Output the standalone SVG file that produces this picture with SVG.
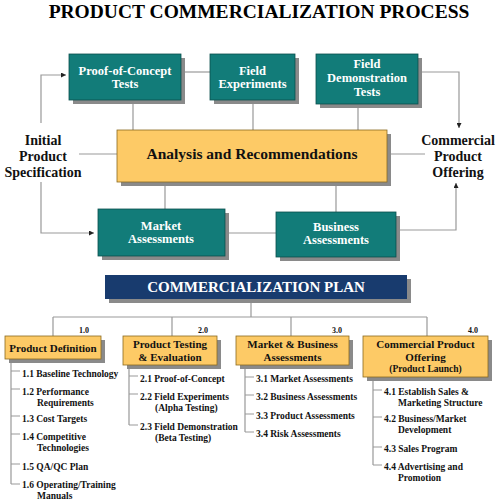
<svg xmlns="http://www.w3.org/2000/svg" width="500" height="500" viewBox="0 0 500 500">
<defs>
<marker id="ah" viewBox="0 0 10 10" refX="10" refY="5" markerWidth="5" markerHeight="5" orient="auto" markerUnits="userSpaceOnUse"><path d="M0,0 L10,5 L0,10 z" fill="#222"/></marker>
</defs>
<style>
text{font-family:"Liberation Serif","Times New Roman",serif;font-weight:bold;text-anchor:middle}
.title{font-size:19.5px;fill:#000}
.teal{fill:#127C79;stroke:#0b4f4d;stroke-width:0.8}
.yel{fill:#FDCA66;stroke:#8a6a20;stroke-width:0.8}
.navy{fill:#183B6E}
.sh{fill:#8a8a8a}
.wt{fill:#fff;font-size:12.5px}
.side{fill:#111;font-size:14px}
.bt{fill:#111;font-size:11px}
.num{fill:#111;font-size:8px}
.it{fill:#111;font-size:9.5px;text-anchor:start}
.ln{fill:none;stroke:#999;stroke-width:1.2}
.arr{fill:none;stroke:#999;stroke-width:1.2;marker-end:url(#ah)}
</style>
<rect width="500" height="500" fill="#fff"/>
<text class="title" x="259" y="18">PRODUCT COMMERCIALIZATION PROCESS</text>

<g id="connectors">
<path class="ln" d="M181,72 H210"/>
<path class="ln" d="M133,100 V130 M253,100 V130 M358,104 V130"/>
<path class="arr" d="M41,123 V75 H66"/>
<path class="arr" d="M422,72 H459 V128"/>
<path class="ln" d="M79,154 H117 M388,154 H425"/>
<path class="arr" d="M41,182 V233 H94"/>
<path class="arr" d="M396,230 H456 V183"/>
<path class="ln" d="M165,182 V209 M336,182 V212"/>
<path class="ln" d="M225,233 H276"/>
<path class="ln" d="M251,303 V317 M53,317 H427 M53,317 V336 M172,317 V336 M291,317 V336 M427,317 V336"/>
<path class="ln" d="M11,359 V484 M11,371 H20 M11,389 H20 M11,416 H20 M11,434 H20 M11,464 H20 M11,484 H20"/>
<path class="ln" d="M129,365 V425 M129,376 H138 M129,394 H138 M129,425 H138"/>
<path class="ln" d="M245,365 V432 M245,377 H254 M245,395 H254 M245,414 H254 M245,432 H254"/>
<path class="ln" d="M373,377 V465 M373,390 H382 M373,417 H382 M373,447 H382 M373,465 H382"/>
</g>

<g id="proof-of-concept">
<rect class="sh" x="73" y="58" width="112" height="46"/>
<rect class="teal" x="69" y="54" width="112" height="46"/>
<text class="wt" x="125" y="74.5">Proof-of-Concept</text>
<text class="wt" x="125" y="88">Tests</text>
</g>
<g id="field-experiments">
<rect class="sh" x="214" y="58" width="85" height="46"/>
<rect class="teal" x="210" y="54" width="85" height="46"/>
<text class="wt" x="252.5" y="74.5">Field</text>
<text class="wt" x="252.5" y="88">Experiments</text>
</g>
<g id="field-demonstration">
<rect class="sh" x="320" y="58" width="102" height="50"/>
<rect class="teal" x="316" y="54" width="102" height="50"/>
<text class="wt" x="367" y="67.5">Field</text>
<text class="wt" x="367" y="82">Demonstration</text>
<text class="wt" x="367" y="96">Tests</text>
</g>
<g id="initial-spec">
<text class="side" x="43" y="145">Initial</text>
<text class="side" x="43" y="161">Product</text>
<text class="side" x="43" y="177">Specification</text>
</g>
<g id="commercial-offering">
<text class="side" x="458" y="145">Commercial</text>
<text class="side" x="458" y="161">Product</text>
<text class="side" x="458" y="177">Offering</text>
</g>
<g id="analysis">
<rect class="sh" x="121" y="134" width="270" height="52"/>
<rect class="yel" x="117" y="130" width="270" height="52"/>
<text fill="#111" style="font-size:15.5px" x="252" y="159">Analysis and Recommendations</text>
</g>
<g id="market-assessments">
<rect class="sh" x="102" y="213" width="127" height="47"/>
<rect class="teal" x="98" y="209" width="127" height="47"/>
<text class="wt" x="161" y="229.5">Market</text>
<text class="wt" x="161" y="243">Assessments</text>
</g>
<g id="business-assessments">
<rect class="sh" x="280" y="216" width="120" height="45"/>
<rect class="teal" x="276" y="212" width="120" height="45"/>
<text class="wt" x="336" y="230.5">Business</text>
<text class="wt" x="336" y="244">Assessments</text>
</g>

<g id="commercialization-plan">
<rect class="sh" x="109" y="279" width="302" height="24"/>
<rect class="navy" x="105" y="275" width="302" height="24"/>
<text fill="#fff" style="font-size:15px" x="256" y="292">COMMERCIALIZATION PLAN</text>
</g>

<g id="product-definition">
<rect class="sh" x="9" y="340" width="96" height="23"/>
<rect class="yel" x="5" y="336" width="96" height="23"/>
<text class="num" x="84" y="333">1.0</text>
<text class="bt" x="53" y="352">Product Definition</text>
<text class="it" x="22" y="377">1.1 Baseline Technology</text>
<text class="it" x="22" y="395">1.2 Performance</text>
<text class="it" x="37" y="406">Requirements</text>
<text class="it" x="22" y="422">1.3 Cost Targets</text>
<text class="it" x="22" y="440">1.4 Competitive</text>
<text class="it" x="37" y="451">Technologies</text>
<text class="it" x="22" y="470">1.5 QA/QC Plan</text>
<text class="it" x="22" y="488">1.6 Operating/Training</text>
<text class="it" x="37" y="499">Manuals</text>
</g>
<g id="product-testing">
<rect class="sh" x="127" y="340" width="94" height="29"/>
<rect class="yel" x="123" y="336" width="94" height="29"/>
<text class="num" x="203" y="333">2.0</text>
<text class="bt" x="170" y="348">Product Testing</text>
<text class="bt" x="170" y="361">&amp; Evaluation</text>
<text class="it" x="140" y="382">2.1 Proof-of-Concept</text>
<text class="it" x="140" y="400">2.2 Field Experiments</text>
<text class="it" x="155" y="411">(Alpha Testing)</text>
<text class="it" x="140" y="430">2.3 Field Demonstration</text>
<text class="it" x="155" y="441">(Beta Testing)</text>
</g>
<g id="market-business">
<rect class="sh" x="240" y="340" width="113" height="29"/>
<rect class="yel" x="236" y="336" width="113" height="29"/>
<text class="num" x="337" y="333">3.0</text>
<text class="bt" x="292.5" y="348">Market &amp; Business</text>
<text class="bt" x="292.5" y="361">Assessments</text>
<text class="it" x="256" y="382">3.1 Market Assessments</text>
<text class="it" x="256" y="400">3.2 Business Assessments</text>
<text class="it" x="256" y="419">3.3 Product Assessments</text>
<text class="it" x="256" y="437">3.4 Risk Assessments</text>
</g>
<g id="commercial-product">
<rect class="sh" x="367" y="340" width="125" height="41"/>
<rect class="yel" x="363" y="336" width="125" height="41"/>
<text class="num" x="473" y="333">4.0</text>
<text class="bt" x="425.5" y="348">Commercial Product</text>
<text class="bt" x="425.5" y="361">Offering</text>
<text class="bt" style="font-size:9.5px" x="425.5" y="372">(Product Launch)</text>
<text class="it" x="384" y="395">4.1 Establish Sales &amp;</text>
<text class="it" x="398" y="406">Marketing Structure</text>
<text class="it" x="384" y="422">4.2 Business/Market</text>
<text class="it" x="398" y="433">Development</text>
<text class="it" x="384" y="452">4.3 Sales Program</text>
<text class="it" x="384" y="470">4.4 Advertising and</text>
<text class="it" x="398" y="481">Promotion</text>
</g>
</svg>
